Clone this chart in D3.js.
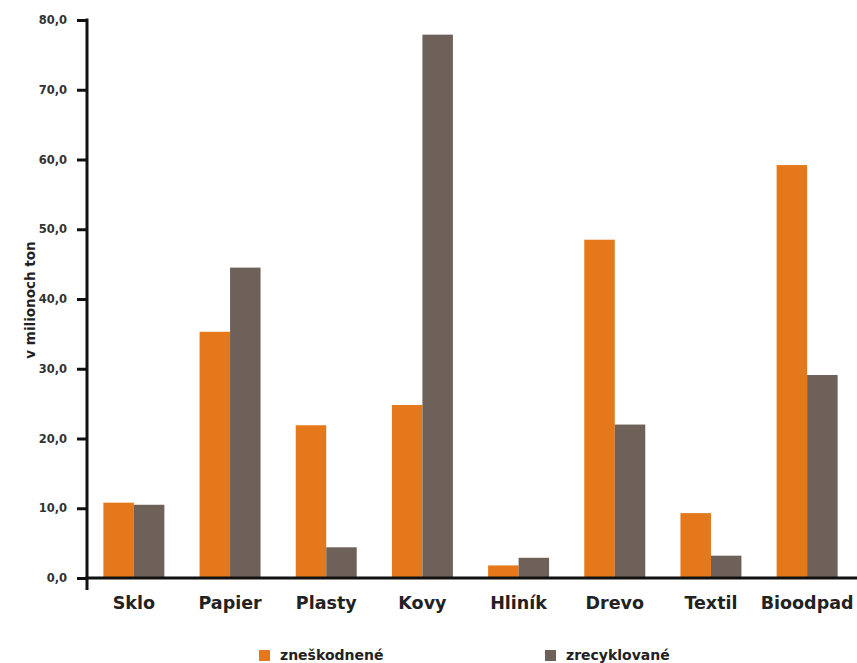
<!DOCTYPE html>
<html><head><meta charset="utf-8">
<script src="https://cdn.jsdelivr.net/npm/d3@7"></script>
<style>body{margin:0;background:#fff;} svg{display:block;}</style>
</head><body>
<script>
const categories = ["Sklo","Papier","Plasty","Kovy","Hliník","Drevo","Textil","Bioodpad"];
const seriesNames = ["zneškodnené","zrecyklované"];
const disposed = [10.8, 35.3, 21.9, 24.8, 1.8, 48.5, 9.3, 59.2];
const recycled = [10.5, 44.5, 4.4, 77.9, 2.9, 22.0, 3.2, 29.1];
const yTicks = [0,10,20,30,40,50,60,70,80];
const colors = ["#E5781A","#6E6159"];

const W = 857, H = 663;
const svg = d3.select("body").append("svg").attr("width",W).attr("height",H);
const font = "'DejaVu Sans', sans-serif";

const y = d3.scaleLinear().domain([0,80]).range([578,20]);
const x0 = d3.scaleBand().domain(categories).range([88,853]).paddingInner(0.366).paddingOuter(0.16);
const x1 = d3.scaleBand().domain(seriesNames).range([0,x0.bandwidth()]);

const locale = d3.formatLocale({decimal:",",thousands:" ",grouping:[3],currency:["","€"]});
const fmt = locale.format(".1f");

const data = categories.map((c,i)=>({cat:c, vals:[disposed[i],recycled[i]]}));

// bars
const g = svg.append("g");
g.selectAll("g.grp").data(data).join("g").attr("class","grp")
  .attr("transform",d=>`translate(${x0(d.cat)},0)`)
  .selectAll("rect").data(d=>d.vals.map((v,k)=>({k,v})))
  .join("rect")
  .attr("x",d=>x1(seriesNames[d.k]))
  .attr("width",x1.bandwidth())
  .attr("y",d=>y(d.v))
  .attr("height",d=>y(0)-y(d.v))
  .attr("fill",d=>colors[d.k]);

// y axis
const yAxis = d3.axisLeft(y).tickValues(yTicks).tickFormat(fmt).tickSize(10).tickPadding(10);
const ya = svg.append("g").attr("transform","translate(87,0)").call(yAxis);
ya.select(".domain").remove();
ya.selectAll(".tick line").attr("stroke","#111").attr("stroke-width",3);
ya.selectAll(".tick text").attr("font-family",font).attr("font-weight","bold")
  .attr("font-size",11.5).attr("fill","#333");
svg.append("line").attr("x1",87).attr("x2",87).attr("y1",y(80)-1.5).attr("y2",590)
  .attr("stroke","#111").attr("stroke-width",3);
// x axis line
svg.append("line").attr("x1",85.5).attr("x2",W).attr("y1",y(0)).attr("y2",y(0))
  .attr("stroke","#111").attr("stroke-width",3);

// category labels
const xAxis = d3.axisBottom(x0).tickSize(0).tickPadding(0);
const xa = svg.append("g").attr("transform","translate(0,597)").call(xAxis);
xa.select(".domain").remove();
xa.selectAll(".tick text").attr("font-family",font).attr("font-weight","bold")
  .attr("font-size",17.5).attr("fill","#222").attr("dy","0.71em");

// y title
svg.append("text").attr("transform","translate(35,300) rotate(-90)")
  .attr("text-anchor","middle").attr("font-family",font).attr("font-weight","bold")
  .attr("font-size",13.5).attr("fill","#222").text("v milionoch ton");

// legend
const legX = [259,545];
const leg = svg.append("g");
seriesNames.forEach((s,i)=>{
  leg.append("rect").attr("x",legX[i]).attr("y",650).attr("width",11).attr("height",11).attr("fill",colors[i]);
  leg.append("text").attr("x",legX[i]+21).attr("y",660).attr("font-family",font).attr("font-weight","bold")
    .attr("font-size",14).attr("fill","#222").text(s);
});
</script>
</body></html>
